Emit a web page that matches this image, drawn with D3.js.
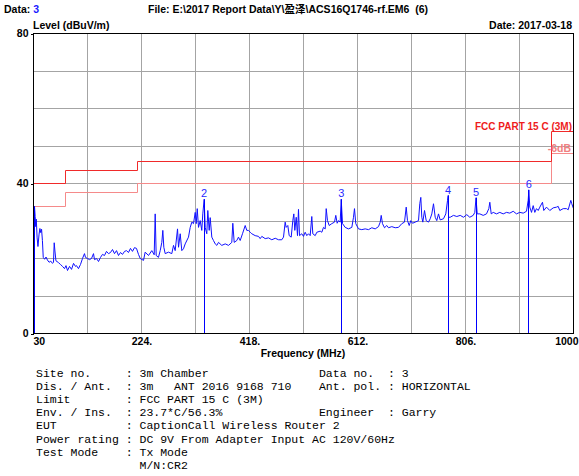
<!DOCTYPE html>
<html>
<head>
<meta charset="utf-8">
<script src="https://cdn.jsdelivr.net/npm/d3@7/dist/d3.min.js"></script>
<style>
  html, body { margin: 0; padding: 0; background: #fff; }
  svg { display: block; }
  text { font-family: "Liberation Sans", Arial, "Noto Sans CJK SC", sans-serif; }
  .bold { font-weight: bold; font-size: 10.5px; }
  .mono { font-family: "Liberation Mono", "Courier New", monospace; font-size: 11.5px; white-space: pre; }
</style>
</head>
<body>
<svg id="chart" width="579" height="476"></svg>
<script>
// Axis ticks
const xTicks = [30, 224, 418, 612, 806, 1000];
const xTickLabels = ["30", "224.", "418.", "612.", "806.", "1000"];
const yTicks = [0, 40, 80];

// FCC Part 15 C (3m) limit, stepwise, and the -6 dB margin line
const limitFreq = [30, 88, 216, 960, 1000];
const limitLevel = [40, 43.5, 46, 54, 54];
const marginLevel = [34, 37.5, 40, 48, 48];

// Peak markers
const markerFreq = [31.8, 336.6, 582.7, 774.9, 824.9, 919.8];
const markerLevel = [33.9, 35.8, 35.8, 36.8, 36.2, 38.3];
const markerLabel = ["", "2", "3", "4", "5", "6"];

// Measured spectrum: [frequency MHz, level dBuV/m]
const spectrum = [
  [30.0,29.6],[30.9,32.0],[31.8,33.9],[33.0,31.2],[34.0,28.5],[35.0,30.5],[36.5,25.5],[38.0,23.2],
  [40.0,26.5],[41.5,28.0],[43.0,26.9],[44.5,27.8],[46.0,24.8],[47.5,20.3],[50.0,19.8],[52.5,20.4],
  [55.0,19.6],[58.0,19.0],[61.0,19.3],[64.1,18.7],[65.9,19.0],[67.2,24.2],[68.5,22.0],[70.3,19.4],
  [74.9,18.9],[78.5,18.4],[82.1,17.9],[85.7,17.3],[88.4,18.1],[91.1,16.8],[94.7,17.9],[98.3,17.1],
  [101.9,18.7],[105.4,17.9],[107.2,18.1],[110.8,17.3],[114.4,18.4],[118.0,20.0],[121.6,21.3],[123.4,20.3],
  [127.0,20.0],[130.6,19.7],[134.2,20.0],[137.8,21.3],[139.6,19.7],[143.2,20.0],[146.8,19.2],[150.4,20.3],
  [153.9,21.1],[157.5,20.8],[161.1,21.9],[164.7,21.3],[168.3,21.6],[171.9,22.4],[175.5,21.3],[179.1,22.1],
  [182.7,20.8],[186.3,21.6],[189.9,21.1],[193.5,21.9],[197.1,22.1],[200.6,21.6],[204.2,22.7],[207.8,21.9],
  [211.4,22.9],[215.0,22.7],[218.6,21.1],[221.7,20.0],[227.6,19.5],[230.6,21.7],[236.6,20.8],[242.5,22.1],
  [246.8,21.0],[248.6,31.9],[250.4,20.8],[254.5,20.3],[257.6,22.1],[260.5,24.3],[262.3,27.5],[264.1,23.0],
  [266.6,21.3],[272.5,21.7],[278.4,21.3],[281.5,23.5],[284.5,22.1],[288.7,27.9],[290.5,23.0],[293.5,26.6],
  [296.4,22.1],[299.4,22.6],[302.5,23.9],[308.4,25.7],[311.5,28.3],[314.4,29.7],[317.4,29.3],[320.5,32.3],
  [322.3,29.3],[324.1,33.3],[326.4,28.3],[329.4,30.1],[332.3,27.5],[334.1,31.9],[336.6,35.8],[338.4,28.3],
  [341.3,26.6],[343.1,32.8],[345.6,27.5],[347.4,30.9],[350.3,25.7],[353.3,24.8],[356.4,23.9],[359.3,23.5],
  [362.3,24.3],[368.2,23.5],[374.4,23.9],[380.3,23.5],[386.2,24.3],[388.0,29.4],[390.5,24.3],[395.2,24.8],
  [398.2,25.7],[401.3,24.8],[405.4,26.6],[410.3,28.8],[413.1,27.5],[416.2,27.5],[419.3,27.0],[422.1,26.6],
  [428.2,26.1],[434.2,25.9],[437.2,25.3],[440.1,25.9],[446.2,25.3],[452.1,25.5],[458.1,25.0],[464.2,25.4],
  [470.1,25.0],[476.0,25.0],[479.1,25.7],[482.1,29.7],[483.9,28.3],[486.8,28.8],[489.3,26.1],[492.9,25.7],
  [495.8,30.1],[497.6,31.9],[499.4,27.5],[501.9,31.0],[504.2,26.1],[506.0,33.1],[507.8,26.1],[511.9,26.6],
  [515.0,25.9],[518.0,27.0],[520.9,26.1],[524.0,26.6],[527.0,26.1],[529.9,31.2],[531.7,26.6],[536.0,26.1],
  [538.9,27.0],[545.0,27.3],[547.9,27.0],[550.9,28.3],[554.0,27.9],[555.8,33.3],[558.1,30.1],[561.2,28.8],
  [565.8,29.3],[570.7,29.7],[573.0,31.5],[575.5,29.4],[577.9,30.1],[580.9,29.7],[582.7,35.8],[585.1,29.3],
  [589.9,28.3],[595.8,27.9],[601.8,28.3],[604.8,31.0],[606.6,33.3],[608.9,29.3],[613.8,27.9],[619.7,27.7],
  [625.8,27.9],[631.8,27.7],[637.7,28.2],[643.8,27.9],[649.7,28.5],[652.8,29.7],[654.6,31.5],[656.9,29.3],
  [660.5,28.2],[664.6,28.8],[667.7,28.2],[673.6,28.5],[679.7,28.2],[685.6,28.3],[691.6,29.3],[696.4,29.7],
  [699.5,33.7],[701.8,30.1],[704.9,28.8],[707.7,30.1],[710.8,29.4],[715.6,29.7],[721.6,30.1],[723.9,34.6],
  [725.7,36.3],[727.5,31.0],[729.3,29.7],[732.4,32.8],[735.4,30.1],[739.5,29.7],[742.6,30.6],[745.5,31.9],
  [748.5,34.6],[751.6,31.0],[754.4,30.1],[757.5,31.9],[760.5,30.3],[766.5,30.6],[770.6,31.9],[773.7,35.5],
  [774.9,36.8],[775.5,31.0],[778.5,31.0],[784.4,31.5],[790.4,31.2],[796.5,31.5],[802.4,31.0],[808.3,31.7],
  [813.7,31.0],[819.8,31.5],[822.7,32.3],[824.9,36.2],[827.0,31.9],[831.7,31.9],[837.8,31.5],[843.7,31.9],
  [847.9,33.3],[849.7,35.0],[852.2,31.9],[855.8,32.3],[861.7,31.9],[867.6,32.3],[873.7,31.9],[879.7,32.3],
  [885.6,32.1],[891.7,32.6],[897.6,31.9],[903.5,32.3],[909.7,32.1],[915.6,32.6],[918.6,35.5],[919.8,38.3],
  [921.5,33.7],[924.6,32.3],[927.6,34.1],[930.5,32.3],[933.5,33.3],[936.6,32.8],[939.5,33.7],[944.3,35.0],
  [946.6,32.8],[951.5,33.7],[957.4,32.8],[963.5,33.5],[969.5,33.7],[972.5,33.9],[975.4,32.8],[981.5,33.3],
  [987.4,33.3],[990.5,33.0],[995.2,35.5],[996.9,34.6],[1000.0,33.3]
];

// Test report details printed beneath the plot
const infoLines = [
  "Site no.     : 3m Chamber                Data no.  : 3",
  "Dis. / Ant.  : 3m   ANT 2016 9168 710    Ant. pol. : HORIZONTAL",
  "Limit        : FCC PART 15 C (3M)",
  "Env. / Ins.  : 23.7*C/56.3%              Engineer  : Garry",
  "EUT          : CaptionCall Wireless Router 2",
  "Power rating : DC 9V From Adapter Input AC 120V/60Hz",
  "Test Mode    : Tx Mode",
  "               M/N:CR2"
];

const svg = d3.select("#chart");
const x = d3.scaleLinear().domain([30, 1000]).range([33.5, 573.5]);
const y = d3.scaleLinear().domain([0, 80]).range([333.5, 33.5]);
// snap a coordinate to the centre of a device pixel so 1px strokes stay sharp
const snap = v => Math.round(v - 0.5) + 0.5;

// Grid
const grid = svg.append("g").attr("stroke", "#a4a4a4").attr("stroke-width", 1).attr("shape-rendering", "crispEdges");
grid.selectAll("line.v").data(d3.range(30, 1001, 97)).join("line")
  .attr("x1", d => x(d)).attr("x2", d => x(d)).attr("y1", y(0)).attr("y2", y(80));
grid.selectAll("line.h").data(d3.range(0, 81, 10)).join("line")
  .attr("x1", x(30)).attr("x2", x(1000)).attr("y1", d => y(d)).attr("y2", d => y(d));

// Limit lines
const stepLine = d3.line().x(d => snap(x(d[0]))).y(d => snap(y(d[1]))).curve(d3.curveStepAfter);
svg.append("path")
  .datum(limitFreq.map((f, i) => [f, marginLevel[i]]))
  .attr("d", stepLine).attr("fill", "none").attr("stroke", "#f58a8a").attr("stroke-width", 1);
svg.append("path")
  .datum(limitFreq.map((f, i) => [f, limitLevel[i]]))
  .attr("d", stepLine).attr("fill", "none").attr("stroke", "#f02a2a").attr("stroke-width", 1);

// Spectrum trace
svg.append("path")
  .datum(spectrum)
  .attr("d", d3.line().x(d => x(d[0])).y(d => y(d[1])))
  .attr("fill", "none").attr("stroke", "#1010ff").attr("stroke-width", 1);

// Marker lines and numbers
const markers = markerFreq.map((f, i) => ({ f, v: markerLevel[i], label: markerLabel[i] }));
svg.append("g").selectAll("line").data(markers).join("line")
  .attr("x1", d => snap(x(d.f))).attr("x2", d => snap(x(d.f)))
  .attr("y1", d => y(d.v)).attr("y2", y(0))
  .attr("stroke", "#0000ff").attr("stroke-width", 1);
svg.append("g").selectAll("text").data(markers.filter(d => d.label)).join("text")
  .attr("x", d => x(d.f)).attr("y", d => y(d.v) - 2)
  .attr("text-anchor", "middle").attr("font-size", "11px").attr("fill", "#2a2aff")
  .text(d => d.label);

// Frame
svg.append("rect").attr("x", 33.5).attr("y", 33.5).attr("width", 540).attr("height", 300)
  .attr("fill", "none").attr("stroke", "#000").attr("stroke-width", 1).attr("shape-rendering", "crispEdges");

// Axes
const yAxis = svg.append("g").attr("transform", "translate(33.5,0)")
  .call(d3.axisLeft(y).tickValues(yTicks).tickSize(3).tickPadding(2).tickFormat(d3.format("d")));
yAxis.select(".domain").remove();
yAxis.selectAll("line").attr("stroke", "#000").attr("shape-rendering", "crispEdges");
yAxis.selectAll("text").attr("class", "bold").attr("fill", "#000");
yAxis.attr("font-family", null).attr("font-size", null);

const xAxis = svg.append("g").attr("transform", "translate(0,333.5)")
  .call(d3.axisBottom(x).tickValues(xTicks).tickSize(0).tickPadding(4).tickFormat((d, i) => xTickLabels[i]));
xAxis.select(".domain").remove();
xAxis.attr("font-family", null).attr("font-size", null);
xAxis.selectAll("text").attr("class", "bold").attr("fill", "#000");
xAxis.selectAll(".tick").filter((d, i) => i === 0).select("text").attr("text-anchor", "start").attr("dx", -0.5);
xAxis.selectAll(".tick").filter((d, i) => i === xTicks.length - 1).select("text").attr("text-anchor", "end").attr("dx", 4.5);

svg.append("text").attr("class", "bold").attr("x", 303).attr("y", 357)
  .attr("text-anchor", "middle").text("Frequency (MHz)");

// Header
const head = svg.append("text").attr("class", "bold").attr("x", 4).attr("y", 13);
head.append("tspan").text("Data: ");
head.append("tspan").attr("fill", "#1a1aff").text("3");
svg.append("text").attr("class", "bold").attr("x", 148).attr("y", 13)
  .style("white-space", "pre")
  .text("File: E:\\2017 Report Data\\Y\\盈泽\\ACS16Q1746-rf.EM6  (6)");
svg.append("text").attr("class", "bold").attr("x", 33).attr("y", 29).text("Level (dBuV/m)");
svg.append("text").attr("class", "bold").attr("x", 572).attr("y", 29).attr("text-anchor", "end").text("Date: 2017-03-18");

// Limit captions
svg.append("text").attr("class", "bold").attr("x", 572).attr("y", 130).attr("text-anchor", "end")
  .attr("fill", "#ee1c1c").style("font-size", "10px").text("FCC PART 15 C (3M)");
svg.append("text").attr("x", 571).attr("y", 152).attr("text-anchor", "end")
  .attr("fill", "#f08080").style("font-size", "10.5px").style("font-weight", "bold").text("-6dB");

// Report details
svg.append("g").selectAll("text").data(infoLines).join("text")
  .attr("class", "mono").attr("x", 36).attr("y", (d, i) => 377 + i * 13.1)
  .attr("fill", "#000").text(d => d);
</script>
</body>
</html>
